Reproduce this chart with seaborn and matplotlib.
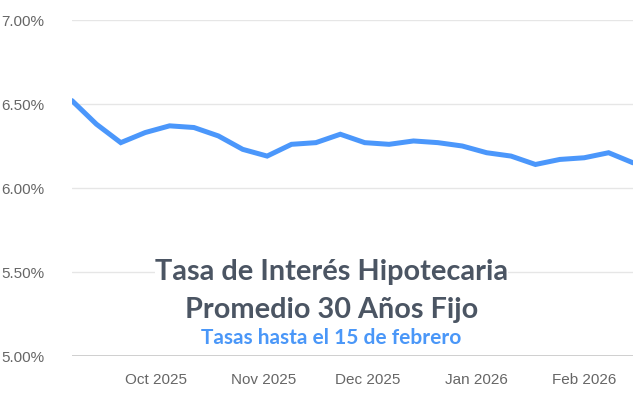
import matplotlib
matplotlib.use("Agg")
import matplotlib.pyplot as plt
import matplotlib.dates as mdates
import seaborn as sns
import pandas as pd

dates = pd.date_range("2025-09-07", "2026-02-15", freq="7D")
rates = [6.52, 6.38, 6.27, 6.33, 6.37, 6.36, 6.31, 6.23, 6.19, 6.26, 6.27,
         6.32, 6.27, 6.26, 6.28, 6.27, 6.25, 6.21, 6.19, 6.14, 6.17, 6.18,
         6.21, 6.15]
yticks = [5.0, 5.5, 6.0, 6.5, 7.0]
xticks = ["2025-10-01", "2025-11-01", "2025-12-01", "2026-01-01", "2026-02-01"]
title1 = "Tasa de Interés Hipotecaria"
title2 = "Promedio 30 Años Fijo"
subtitle = "Tasas hasta el 15 de febrero"

df = pd.DataFrame({"date": dates, "rate": rates})

sns.set_style("white")
plt.rcParams["font.family"] = ["Liberation Sans", "DejaVu Sans"]

fig = plt.figure(figsize=(6.36, 4.03), dpi=100)
ax = fig.add_axes([72/636, 1-356/403, (633-72)/636, (356-20)/403])

sns.lineplot(data=df, x="date", y="rate", ax=ax, color="#4b97fb",
             linewidth=3.6, solid_joinstyle="miter", zorder=3)

ax.set_xlim(dates[0], dates[-1])
ax.set_ylim(5.0, 7.0)
ax.set_yticks(yticks)
ax.set_yticklabels([f"{v:.2f}%" for v in yticks])
ax.set_xticks(pd.to_datetime(xticks))
ax.xaxis.set_major_formatter(mdates.DateFormatter("%b %Y"))
ax.set_xlabel("")
ax.set_ylabel("")

for v in yticks:
    ax.axhline(v, color="#cfcfcf" if v == 5.0 else "#e6e6e6",
               linewidth=1.4 if v == 5.0 else 1.0, zorder=1)
for s in ax.spines.values():
    s.set_visible(False)
ax.tick_params(axis="y", length=0, pad=20, labelsize=11, labelcolor="#666666")
ax.tick_params(axis="x", length=0, pad=12, labelsize=11, labelcolor="#666666")

fig.text(331.5/636, 1-272/403, title1, ha="center", va="center",
         family=["Lato", "DejaVu Sans"], fontweight="bold", fontsize=20.8,
         color="#4b5563", zorder=5,
         bbox=dict(facecolor="white", edgecolor="none", pad=0))
fig.text(331.5/636, 1-310/403, title2, ha="center", va="center",
         family=["Lato", "DejaVu Sans"], fontweight="bold", fontsize=20.8,
         color="#4b5563", zorder=5)
fig.text(331.5/636, 1-338/403, subtitle, ha="center", va="center",
         family=["Lato", "DejaVu Sans"], fontweight="bold", fontsize=15,
         color="#4a97f8", zorder=5)

fig.savefig("out.png", dpi=100, facecolor="white")
